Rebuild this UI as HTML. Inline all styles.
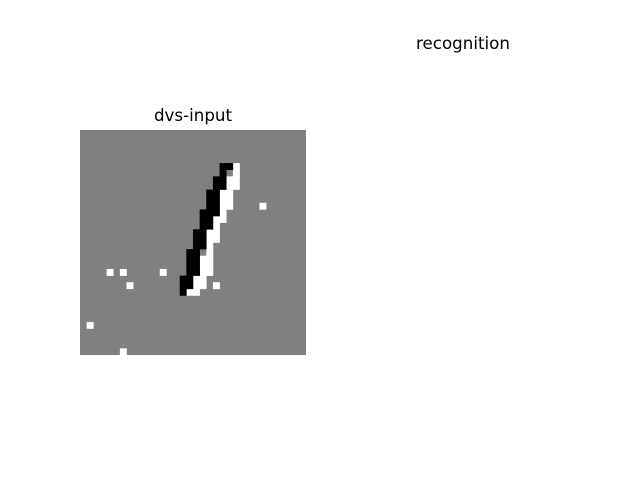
<!DOCTYPE html>
<html><head><meta charset="utf-8"><style>
html,body{margin:0;padding:0;background:#fff;}
svg{display:block;font-family:"DejaVu Sans","Liberation Sans",sans-serif;}
</style></head><body>
<svg id="fig" width="640" height="480" viewBox="0 0 640 480">
<rect width="640" height="480" fill="#fff"/>
<text x="463" y="49" font-size="16.7" text-anchor="middle" fill="#000">recognition</text>
<text x="193" y="121" font-size="16.7" text-anchor="middle" fill="#000">dvs-input</text>
<g id="img"></g>
</svg>
<script>
// grid size
const gridSize = 34;
// ON events (white): [row, col]
const onEvents = [[5,23],[6,23],[7,22],[7,23],[8,22],[8,23],[9,21],[9,22],[10,21],[10,22],[11,21],[11,22],[11,27],
[12,21],[13,20],[13,21],[14,20],[15,19],[15,20],[16,19],[16,20],[17,19],[18,19],[19,18],[19,19],[20,18],[20,19],
[21,18],[21,19],[21,4],[21,6],[21,12],[22,17],[22,18],[23,17],[23,18],[23,7],[23,20],[24,16],[24,17],[29,1],[33,6]];
// OFF events (black): [row, col]
const offEvents = [[5,21],[5,22],[6,21],[7,20],[7,21],[8,20],[8,21],[9,19],[9,20],[10,19],[10,20],[11,19],[11,20],
[12,18],[12,19],[12,20],[13,18],[13,19],[14,18],[14,19],[15,17],[15,18],[16,17],[16,18],[17,17],[17,18],
[18,16],[18,17],[19,16],[19,17],[20,16],[20,17],[21,16],[21,17],[22,15],[22,16],[23,15],[23,16],[24,15]];
const x0=80,y0=130,W=226,H=225;
const sx=c=>x0+c*W/gridSize, sy=r=>y0+r*H/gridSize;
const NS="http://www.w3.org/2000/svg";
const g=document.getElementById('img');
const bg=document.createElementNS(NS,'rect');
bg.setAttribute('x',x0);bg.setAttribute('y',y0);bg.setAttribute('width',W);bg.setAttribute('height',H);bg.setAttribute('fill','#808080');


g.appendChild(bg);
function draw(list,color,name){
  list.forEach(([r,c])=>{
    const el=document.createElementNS(NS,'rect');
    el.setAttribute('x',sx(c));el.setAttribute('y',sy(r));
    el.setAttribute('width',W/gridSize+0.3);el.setAttribute('height',H/gridSize+0.3);
    el.setAttribute('fill',color);
    
    
    g.appendChild(el);
  });
}
draw(onEvents,'#fff','on-event-pixel');
draw(offEvents,'#000','off-event-pixel');
</script>
</body></html>
